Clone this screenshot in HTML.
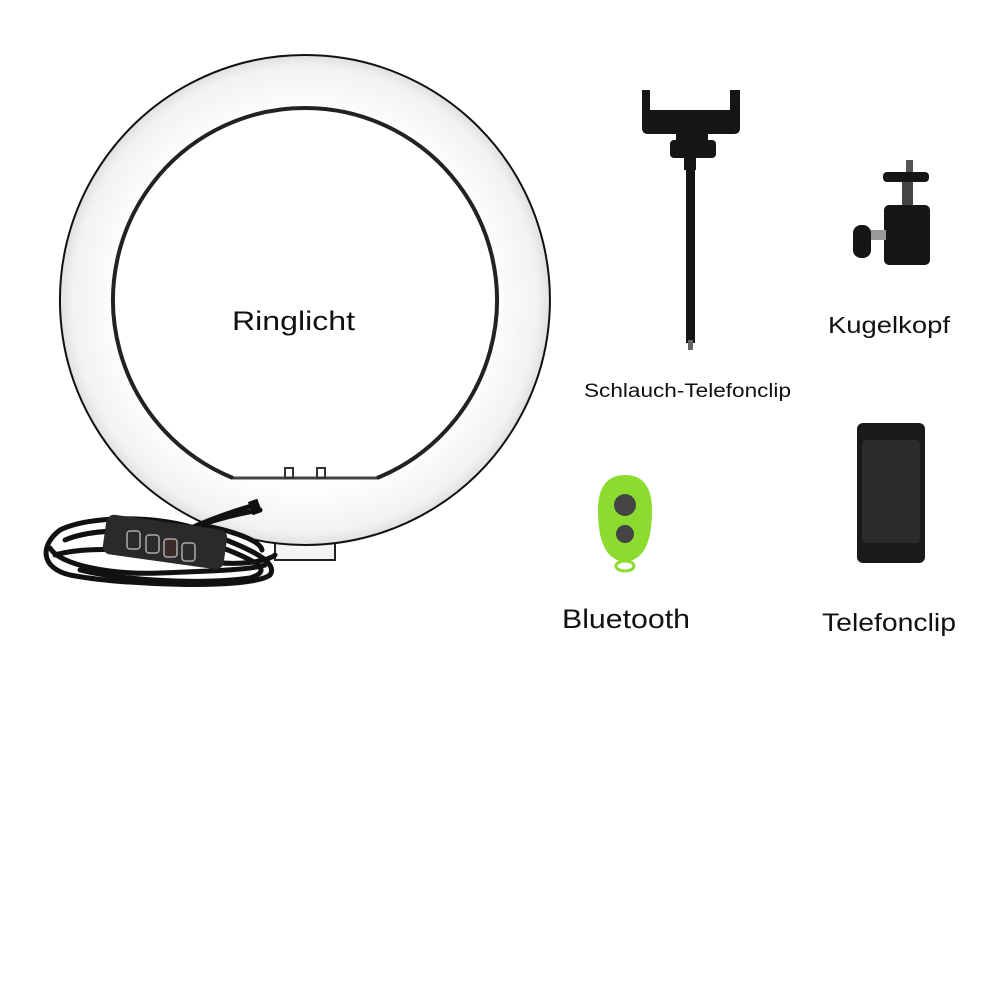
<!DOCTYPE html>
<html><head><meta charset="utf-8"><style>
html,body{margin:0;padding:0;background:#fff;width:1000px;height:1000px;overflow:hidden}
svg{display:block}
text{font-family:"Liberation Sans","DejaVu Sans",sans-serif;fill:#111}
</style></head><body>
<svg width="1000" height="1000" viewBox="0 0 1000 1000">
<defs>
<radialGradient id="rg" cx="0.5" cy="0.5" r="0.5">
<stop offset="0.75" stop-color="#ffffff"/><stop offset="0.95" stop-color="#f2f2f2"/><stop offset="1" stop-color="#e0e0e0"/>
</radialGradient>
</defs>
<!-- ring -->
<rect x="275" y="530" width="60" height="30" fill="#f4f4f4" stroke="#222" stroke-width="2"/>
<path fill-rule="evenodd" fill="url(#rg)" stroke="#111" stroke-width="2"
 d="M305,55 A245,245 0 1,1 304.9,55 Z M233,478 L377,478 A192,192 0 1,0 233,478 Z"/>
<path d="M233,478 A192,192 0 1,1 377,478" fill="none" stroke="#222" stroke-width="4"/>
<line x1="233" y1="478" x2="377" y2="478" stroke="#444" stroke-width="3"/>
<rect x="285" y="468" width="8" height="10" fill="none" stroke="#333" stroke-width="2"/>
<rect x="317" y="468" width="8" height="10" fill="none" stroke="#333" stroke-width="2"/>
<!-- cable -->
<g fill="none" stroke="#111" stroke-width="5" stroke-linecap="round">
<path d="M60,530 C90,515 160,515 200,530 C240,545 280,560 270,575 C250,590 120,585 70,575 C40,568 40,545 60,530"/>
<path d="M65,540 C100,525 170,530 215,545 C255,560 275,570 250,578 C200,585 120,580 80,570"/>
<path d="M50,548 C60,565 110,575 160,573 C210,571 250,570 265,565"/>
<path d="M55,555 C90,545 150,550 200,560 C240,568 270,560 275,555"/>
<path d="M140,555 C180,530 220,515 255,505"/>
<path d="M150,548 C190,525 230,515 260,510"/>
<path d="M200,525 C230,530 260,540 262,550"/>
</g>
<rect x="250" y="500" width="10" height="14" fill="#111" transform="rotate(-20 255 507)"/>
<rect x="104" y="522" width="122" height="40" rx="8" fill="#2a2a2a" transform="rotate(8 165 542)"/>
<g fill="none" stroke="#aaa" stroke-width="1.5">
<rect x="127" y="531" width="13" height="18" rx="3"/><rect x="146" y="535" width="13" height="18" rx="3"/>
<rect x="164" y="539" width="13" height="18" rx="3" fill="#3a2a2a"/><rect x="182" y="543" width="13" height="18" rx="3"/>
</g>
<text x="232" y="330" font-size="27" textLength="123" lengthAdjust="spacingAndGlyphs">Ringlicht</text>
<!-- gooseneck clip -->
<g fill="#151515">
<path d="M642,90 h8 v20 h80 v-20 h10 v38 q0,6 -6,6 h-86 q-6,0 -6,-6 z"/>
<rect x="676" y="130" width="32" height="12"/>
<rect x="670" y="140" width="46" height="18" rx="4"/>
<rect x="684" y="158" width="12" height="12"/>
<rect x="686" y="168" width="9" height="175"/>
<rect x="688" y="340" width="5" height="10" fill="#666"/>
</g>
<text x="584" y="397" font-size="19" textLength="207" lengthAdjust="spacingAndGlyphs">Schlauch-Telefonclip</text>
<!-- ball head -->
<g fill="#151515">
<rect x="906" y="160" width="7" height="14" fill="#555"/>
<rect x="883" y="172" width="46" height="10" rx="4"/>
<rect x="902" y="182" width="11" height="25" fill="#444"/>
<rect x="884" y="205" width="46" height="60" rx="5"/>
<rect x="866" y="230" width="20" height="10" fill="#999"/>
<rect x="853" y="225" width="18" height="33" rx="8"/>
</g>
<text x="828" y="333" font-size="23" textLength="122" lengthAdjust="spacingAndGlyphs">Kugelkopf</text>
<!-- bluetooth remote -->
<path d="M625,475 C645,475 652,490 652,510 C652,540 645,560 625,562 C605,560 598,540 598,510 C598,490 605,475 625,475 Z" fill="#8bdc2e"/>
<ellipse cx="625" cy="566" rx="9" ry="5" fill="none" stroke="#8bdc2e" stroke-width="3"/>
<circle cx="625" cy="505" r="11" fill="#444"/>
<circle cx="625" cy="534" r="9" fill="#444"/>
<text x="562" y="628" font-size="27" textLength="128" lengthAdjust="spacingAndGlyphs">Bluetooth</text>
<!-- phone clip -->
<rect x="857" y="423" width="68" height="140" rx="6" fill="#1a1a1a"/>
<rect x="862" y="440" width="58" height="103" rx="4" fill="#2b2b2b"/>
<text x="822" y="631" font-size="25" textLength="134" lengthAdjust="spacingAndGlyphs">Telefonclip</text>
</svg>
</body></html>
